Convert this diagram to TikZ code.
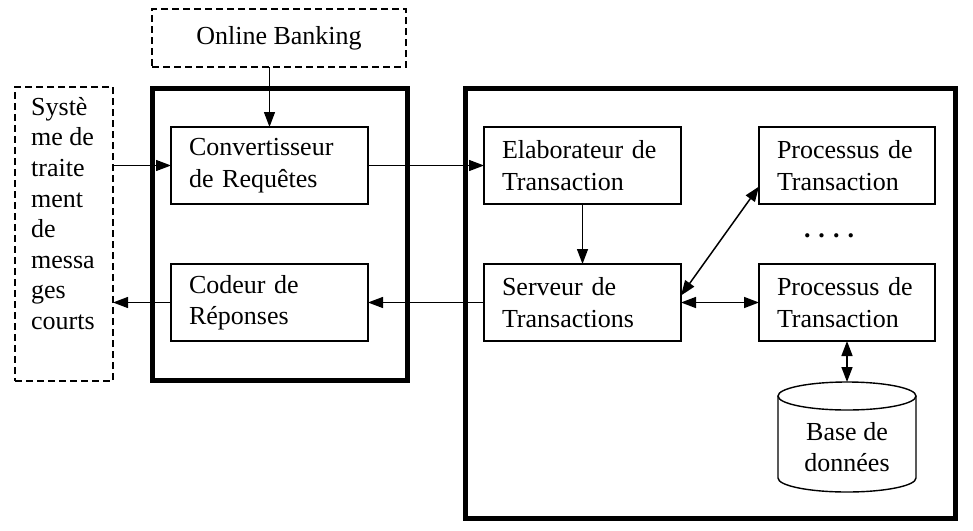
\documentclass[tikz,border=0pt]{standalone}
\usepackage{fontspec}
\setmainfont{Liberation Serif}
\usetikzlibrary{arrows.meta}
\begin{document}
\begin{tikzpicture}[x=1pt,y=-1pt,
  every node/.style={font=\fontsize{26}{31.5}\selectfont},
  box/.style={draw,line width=1.4pt,outer sep=0pt,inner ysep=0pt,inner xsep=18pt,align=left,minimum height=77pt,anchor=north west},
  dbox/.style={draw,line width=1.4pt,outer sep=0pt,dash pattern=on 7pt off 4pt,anchor=north west,inner sep=0pt},
  thick box/.style={draw,line width=5pt,outer sep=0pt,anchor=north west,inner sep=0pt},
  arr/.style={line width=1.3pt,-{Triangle[length=15pt,width=11pt]}},
  darr/.style={line width=1.5pt,{Triangle[length=15pt,width=11pt]}-{Triangle[length=15pt,width=11pt]}}]
\useasboundingbox (0,0) rectangle (973,530);
% containers
\node[thick box,minimum width=255pt,minimum height=292pt] (c1) at (152,88) {};
\node[thick box,minimum width=490pt,minimum height=430pt] (c2) at (465,88) {};
% external dashed boxes
\node[dbox,minimum width=254pt,minimum height=58pt] (ob) at (152,9) {};
\node at (ob.center) {Online Banking};
\node[dbox,minimum width=98pt,minimum height=294pt] (sys) at (15,87) {};
\node[anchor=north west,align=left,inner sep=0pt,font=\fontsize{26}{30.6}\selectfont] (systxt) at (31,97) {Systè\\me de\\traite\\ment\\de\\messa\\ges\\courts};
% boxes
\node[box,text width=161pt] (conv) at (171,127) {Convertisseur\\de Requêtes};
\node[box,text width=161pt] (cod) at (171,264) {Codeur de\\Réponses};
\node[box,text width=161pt] (elab) at (484,127) {Elaborateur de\\Transaction};
\node[box,text width=161pt] (serv) at (484,264) {Serveur de\\Transactions};
\node[box,text width=140pt] (p1) at (759,127) {Processus de\\Transaction};
\node[box,text width=140pt] (p2) at (759,264) {Processus de\\Transaction};
\node (dots) at (829,236) {\textbf{.\hspace{8pt}.\hspace{8pt}.\hspace{8pt}.}};
% database
\draw[line width=1.4pt] (778,396) -- (778,478) arc[start angle=180,end angle=360,x radius=69pt,y radius=14pt] -- (916,396);
\draw[line width=1.4pt] (847,396) ellipse[x radius=69pt,y radius=14pt];
\coordinate (dbtop) at (847,382);
\node[align=center] (db) at (847,447) {Base de\\données};
% connectors
\draw[arr] (ob.south -| conv.north) -- (conv.north);
\draw[arr] (sys.east |- conv.west) -- (conv.west);
\draw[arr] (conv.east) -- (elab.west);
\draw[arr] (elab.south) -- (serv.north);
\draw[arr] (serv.west) -- (cod.east);
\draw[arr] (cod.west) -- (sys.east |- cod.west);
\draw[darr] ([yshift=7pt]serv.east) -- ([yshift=-21pt]p1.west);
\draw[darr] (serv.east) -- (p2.west);
\draw[darr] (p2.south) -- (dbtop);
\end{tikzpicture}
\end{document}
